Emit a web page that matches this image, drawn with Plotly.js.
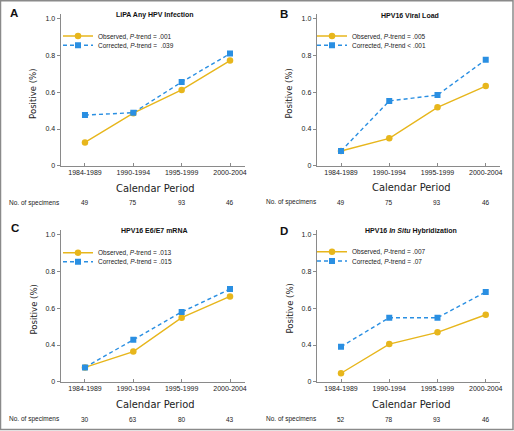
<!DOCTYPE html>
<html><head><meta charset="utf-8">
<script src="https://cdn.plot.ly/plotly-3.0.1.min.js"></script>
<style>html,body{margin:0;padding:0;background:#fff}#chart{width:514px;height:431px}</style>
</head><body><div id="chart"></div>
<script>
// ---- data ----
const periods = ['1984-1989', '1990-1994', '1995-1999', '2000-2004'];
const panelLetters = ['A', 'B', 'C', 'D'];
const panelTitles = ['LiPA Any HPV Infection', 'HPV16 Viral Load', 'HPV16 E6/E7 mRNA', 'HPV16 <i>In Situ</i> Hybridization'];
const observedA = [0.327, 0.486, 0.613, 0.773];
const correctedA = [0.476, 0.489, 0.656, 0.811];
const observedB = [0.280, 0.349, 0.518, 0.634];
const correctedB = [0.280, 0.553, 0.585, 0.778];
const observedC = [0.278, 0.364, 0.549, 0.665];
const correctedC = [0.278, 0.429, 0.580, 0.705];
const observedD = [0.246, 0.405, 0.469, 0.565];
const correctedD = [0.391, 0.549, 0.549, 0.689];
const observedLabels = ['Observed, <i>P</i>-trend = .001', 'Observed, <i>P</i>-trend = .005', 'Observed, <i>P</i>-trend = .013', 'Observed, <i>P</i>-trend = .007'];
const correctedLabels = ['Corrected, <i>P</i>-trend =  .039', 'Corrected, <i>P</i>-trend < .001', 'Corrected, <i>P</i>-trend = .015', 'Corrected, <i>P</i>-trend = .07'];
const specimensA = [49, 75, 93, 46];
const specimensB = [49, 75, 93, 46];
const specimensC = [30, 63, 80, 43];
const specimensD = [52, 78, 93, 46];
const yTickVals = [0.2, 0.4, 0.6, 0.8, 1.0];
const yTickText = ['0', '0.4', '0.6', '0.8', '1.0'];

const observed = [observedA, observedB, observedC, observedD];
const corrected = [correctedA, correctedB, correctedC, correctedD];
const specimens = [specimensA, specimensB, specimensC, specimensD];

// ---- layout geometry (pixels in a 514x431 page) ----
const W = 514, H = 431;
const GOLD = '#E7B61C', BLUE = '#2A8FE2';
const xDom = [[60.8, 244.5], [316.9, 500.2], [60.8, 244.5], [316.9, 500.2]];
const yDom = [[14, 165.7], [14, 165.7], [230, 381.7], [230, 381.7]];
const legendX = [58, 312, 58, 312];
const legendY = [[36, 45.3], [36, 45.3], [252.7, 261.7], [251.7, 261]];
const letterPos = [[8, 12.8], [278, 13.7], [9, 228], [278, 230.5]];
const titlePos = [[155, 15], [409.5, 15], [154.3, 230.3], [410.7, 230.7]];
const yTitlePos = [[32.2, 93.7], [288.5, 94], [32.5, 310], [288.5, 309]];
const xTitlePos = [[155.3, 188.5], [411, 188], [155.3, 404], [411, 404]];
const specY = [202.7, 202.3, 419, 419];
const specX = [7.3, 264.3, 7.3, 264.3];

const px = v => v / W, py = v => 1 - v / H;
const base = 'Liberation Sans, Arial, Helvetica, sans-serif';
const narrow = 'Liberation Sans Narrow, Arial Narrow, DejaVu Sans Condensed, sans-serif';

const data = [];
const layout = {
  width: W, height: H,
  margin: {l: 0, r: 0, t: 0, b: 0},
  paper_bgcolor: '#fff', plot_bgcolor: '#fff',
  font: {family: base, color: '#222', size: 7},
  showlegend: true,
  legend: {visible: false},
  annotations: [],
  shapes: [{type: 'rect', xref: 'paper', yref: 'paper', x0: 0.5 / W, x1: 1 - 1 / W, y0: 1.5 / H, y1: 1 - 0.8 / H,
            line: {color: '#8a8a8a', width: 1.5}, layer: 'below'}]
};

for (let i = 0; i < 4; i++) {
  const s = i === 0 ? '' : String(i + 1);
  const xa = 'x' + s, ya = 'y' + s;
  const lo = 'legend' + String(2 * i + 2);
  const lc = 'legend' + String(2 * i + 3);
  data.push({
    x: periods, y: observed[i], xaxis: xa, yaxis: ya, type: 'scatter', mode: 'lines+markers',
    name: observedLabels[i], legend: lo, showlegend: true,
    line: {color: GOLD, width: 1.4}, marker: {color: GOLD, size: 6.5, symbol: 'circle'}
  });
  data.push({
    x: periods, y: corrected[i], xaxis: xa, yaxis: ya, type: 'scatter', mode: 'lines+markers',
    name: correctedLabels[i], legend: lc, showlegend: true,
    line: {color: BLUE, width: 1.4, dash: '4px,3px'}, marker: {color: BLUE, size: 6, symbol: 'square'}
  });
  layout['xaxis' + s] = {
    domain: [px(xDom[i][0]), px(xDom[i][1])], anchor: ya, type: 'category',
    range: [-0.5, 3.3], showgrid: false, zeroline: false,
    showline: true, linecolor: '#8a8a8a', linewidth: 1.2,
    ticks: 'inside', ticklen: 3, tickcolor: '#8a8a8a', tickwidth: 1,
    tickfont: {family: base, size: 7, color: '#222'}
  };
  layout['yaxis' + s] = {
    domain: [py(yDom[i][1]), py(yDom[i][0])], anchor: xa,
    range: [0.2, 1.027], showgrid: false, zeroline: false,
    showline: true, linecolor: '#8a8a8a', linewidth: 1.2,
    ticks: 'outside', ticklen: 3, tickcolor: '#8a8a8a', tickwidth: 1,
    tickvals: yTickVals, ticktext: yTickText,
    tickfont: {family: base, size: 7, color: '#222'}
  };
  const legStyle = {xref: 'paper', yref: 'paper', xanchor: 'left', yanchor: 'middle', visible: true,
    bgcolor: 'rgba(0,0,0,0)', borderwidth: 0, font: {family: base, size: 6.5, color: '#222'}};
  layout[lo] = Object.assign({x: px(legendX[i]), y: py(legendY[i][0])}, legStyle);
  layout[lc] = Object.assign({x: px(legendX[i]), y: py(legendY[i][1])}, legStyle);

  layout.annotations.push(
    {text: '<b>' + panelLetters[i] + '</b>', xref: 'paper', yref: 'paper', x: px(letterPos[i][0]), y: py(letterPos[i][1]),
     xanchor: 'left', yanchor: 'middle', showarrow: false, font: {family: base, size: 11.5, color: '#111'}},
    {text: '<b>' + panelTitles[i] + '</b>', xref: 'paper', yref: 'paper', x: px(titlePos[i][0]), y: py(titlePos[i][1]),
     xanchor: 'center', yanchor: 'middle', showarrow: false, font: {family: base, size: 7, color: '#111'}},
    {text: 'Positive (%)', xref: 'paper', yref: 'paper', x: px(yTitlePos[i][0]), y: py(yTitlePos[i][1]), textangle: -90,
     xanchor: 'center', yanchor: 'middle', showarrow: false, font: {family: narrow, size: 9.5, color: '#222'}},
    {text: 'Calendar Period', xref: 'paper', yref: 'paper', x: px(xTitlePos[i][0]), y: py(xTitlePos[i][1]),
     xanchor: 'center', yanchor: 'middle', showarrow: false, font: {family: narrow, size: 11, color: '#222'}},
    {text: 'No. of specimens', xref: 'paper', yref: 'paper', x: px(specX[i]), y: py(specY[i]),
     xanchor: 'left', yanchor: 'middle', showarrow: false, font: {family: base, size: 6.5, color: '#222'}}
  );
  for (let k = 0; k < periods.length; k++) {
    layout.annotations.push({text: String(specimens[i][k]), xref: xa, yref: 'paper', x: periods[k], y: py(specY[i]),
      xanchor: 'center', yanchor: 'middle', showarrow: false, font: {family: base, size: 6.5, color: '#222'}});
  }
}

Plotly.newPlot('chart', data, layout, {displayModeBar: false, staticPlot: true});
</script>
</body></html>
